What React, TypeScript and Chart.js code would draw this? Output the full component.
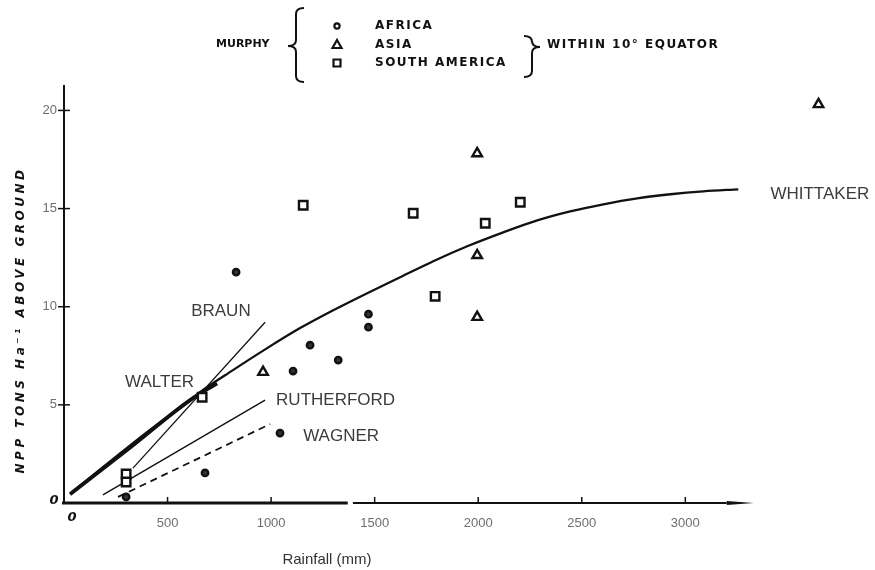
import React, { useEffect, useRef } from 'react';
import { Chart, registerables } from 'chart.js';

Chart.register(...registerables);

// Site data within 10° of the equator: rainfall (mm) vs above-ground NPP (t/ha)
const AFRICA_RAIN = [831, 1470, 1470, 1188, 1324, 1106, 1043, 681, 300];
const AFRICA_NPP = [11.76, 9.62, 8.96, 8.04, 7.28, 6.72, 3.56, 1.53, 0.31];
const ASIA_RAIN = [961, 1995, 1995, 1995, 3643];
const ASIA_NPP = [6.67, 17.81, 12.62, 9.47, 20.31];
const SAMERICA_RAIN = [300, 300, 667, 1155, 1686, 2203, 2034, 1792];
const SAMERICA_NPP = [1.48, 1.07, 5.39, 15.17, 14.76, 15.32, 14.25, 10.53];

// Published rainfall–production relations
const WHITTAKER_RAIN = [39, 401, 609, 657, 816, 981, 1140, 1300, 1464, 1623, 1783, 1947, 2121, 2285, 2444, 2604, 2768, 2928, 3087, 3256];
const WHITTAKER_NPP = [0.56, 3.61, 5.24, 5.65, 6.77, 7.89, 8.91, 9.82, 10.69, 11.5, 12.32, 13.08, 13.79, 14.4, 14.86, 15.22, 15.52, 15.73, 15.88, 15.98];
const WALTER_RAIN = [29, 304, 609, 739];
const WALTER_NPP = [0.45, 2.7, 5.24, 6.1];
const BRAUN_RAIN = [333, 971];
const BRAUN_NPP = [1.78, 9.21];
const RUTHERFORD_RAIN = [188, 971];
const RUTHERFORD_NPP = [0.41, 5.24];
const WAGNER_RAIN = [261, 995];
const WAGNER_NPP = [0.31, 4.02];

const X_TICKS = [0, 500, 1000, 1500, 2000, 2500, 3000];
const Y_TICKS = [0, 5, 10, 15, 20];

// Curve names, anchored in data units (left edge, vertical centre)
const CURVE_NAMES = ['BRAUN', 'WALTER', 'RUTHERFORD', 'WAGNER', 'WHITTAKER'];
const NAME_RAIN = [614, 295, 1024, 1155, 3411];
const NAME_NPP = [9.77, 6.16, 5.24, 3.41, 15.73];

const pts = (xs: number[], ys: number[]) => xs.map((x, i) => ({ x, y: ys[i] }));

const INK = '#111';
const TICK_FONT = { family: '"Liberation Sans Narrow", "Liberation Sans", Arial', size: 13 };

function brace(ctx: CanvasRenderingContext2D, x: number, top: number, mid: number, bot: number, w: number) {
  // w > 0 opens to the right ("{"), w < 0 opens to the left ("}")
  const r = 6;
  ctx.beginPath();
  ctx.moveTo(x + w, top);
  ctx.quadraticCurveTo(x, top, x, top + r);
  ctx.lineTo(x, mid - r);
  ctx.quadraticCurveTo(x, mid, x - w, mid);
  ctx.quadraticCurveTo(x, mid, x, mid + r);
  ctx.lineTo(x, bot - r);
  ctx.quadraticCurveTo(x, bot, x + w, bot);
  ctx.stroke();
}

const decor = {
  id: 'decor',
  beforeDatasetsDraw(chart: any) {
    const { ctx, scales } = chart;
    const px = (v: number) => scales.x.getPixelForValue(v);
    const py = (v: number) => scales.y.getPixelForValue(v);
    const seg = (a: number, b: number, c: number, d: number) => {
      ctx.beginPath();
      ctx.moveTo(a, b);
      ctx.lineTo(c, d);
      ctx.stroke();
    };
    ctx.save();
    ctx.strokeStyle = INK;
    ctx.fillStyle = INK;
    const y0 = py(0);
    const x0 = px(0);
    // horizontal axis, heavier up to the break
    ctx.lineWidth = 3;
    seg(x0 - 2, y0, px(1370), y0);
    ctx.lineWidth = 2;
    seg(px(1395), y0, px(3200), y0);
    ctx.beginPath();
    ctx.moveTo(px(3200), y0 - 2);
    ctx.lineTo(px(3330), y0);
    ctx.lineTo(px(3200), y0 + 2);
    ctx.closePath();
    ctx.fill();
    ctx.lineWidth = 1.5;
    X_TICKS.filter((v) => v > 0).forEach((v) => seg(px(v), y0, px(v), y0 - 6));
    // vertical axis
    ctx.lineWidth = 2;
    seg(x0, y0 + 1, x0, py(21.3));
    ctx.lineWidth = 1.5;
    Y_TICKS.filter((v) => v > 0).forEach((v) => seg(x0 - 6, py(v), x0 + 6, py(v)));
    ctx.restore();
  },
  afterDraw(chart: any) {
    const { ctx, scales } = chart;
    const px = (v: number) => scales.x.getPixelForValue(v);
    const py = (v: number) => scales.y.getPixelForValue(v);
    ctx.save();

    // curve names
    ctx.fillStyle = '#3c3c3c';
    ctx.font = '17px "Liberation Sans", Arial, sans-serif';
    ctx.textAlign = 'left';
    ctx.textBaseline = 'middle';
    CURVE_NAMES.forEach((t, i) => ctx.fillText(t, px(NAME_RAIN[i]), py(NAME_NPP[i])));

    // origin zeros
    ctx.fillStyle = INK;
    ctx.font = 'italic bold 13px "DejaVu Sans", sans-serif';
    ctx.textAlign = 'center';
    ctx.fillText('0', px(0) + 8, py(0) + 15);
    ctx.fillText('0', px(0) - 10, py(0) - 2);

    // axis titles
    ctx.fillStyle = '#333';
    ctx.font = '15px "Liberation Sans", Arial, sans-serif';
    ctx.fillText('Rainfall (mm)', 327, 560);

    ctx.save();
    ctx.fillStyle = INK;
    ctx.translate(21, 320);
    ctx.rotate(-Math.PI / 2);
    ctx.font = 'italic bold 12px "DejaVu Sans", sans-serif';
    (ctx as any).letterSpacing = '3.5px';
    ctx.fillText('NPP TONS Ha\u207B\u00B9 ABOVE GROUND', 0, 0);
    ctx.restore();

    // key
    ctx.fillStyle = INK;
    ctx.strokeStyle = INK;
    ctx.textAlign = 'left';
    ctx.font = 'bold 11px "DejaVu Sans", sans-serif';
    ctx.fillText('MURPHY', 216, 44);
    ctx.font = 'bold 12px "DejaVu Sans", sans-serif';
    (ctx as any).letterSpacing = '1.5px';
    ctx.fillText('AFRICA', 375, 26);
    ctx.fillText('ASIA', 375, 45);
    ctx.fillText('SOUTH AMERICA', 375, 63);
    ctx.fillText('WITHIN 10\u00B0 EQUATOR', 547, 45);
    (ctx as any).letterSpacing = '0px';

    ctx.lineWidth = 2;
    brace(ctx, 296, 8, 46, 82, 8);
    brace(ctx, 532, 36, 47, 77, -8);

    ctx.lineWidth = 2.2;
    ctx.fillStyle = '#fff';
    ctx.beginPath();
    ctx.arc(337, 26, 2.6, 0, Math.PI * 2);
    ctx.fill();
    ctx.stroke();
    ctx.beginPath();
    ctx.moveTo(337, 40);
    ctx.lineTo(341.5, 48);
    ctx.lineTo(332.5, 48);
    ctx.closePath();
    ctx.fill();
    ctx.stroke();
    ctx.beginPath();
    ctx.rect(333.5, 59.5, 7, 7);
    ctx.fill();
    ctx.stroke();

    ctx.restore();
  },
};

export default function App() {
  const ref = useRef<HTMLCanvasElement>(null);

  useEffect(() => {
    if (!ref.current) return;
    const marker = {
      borderColor: INK,
      backgroundColor: '#fff',
      borderWidth: 2.4,
      showLine: false,
      clip: false as const,
    };
    const curve = {
      borderColor: INK,
      pointRadius: 0,
      showLine: true,
      fill: false,
    };
    const chart = new Chart(ref.current, {
      type: 'scatter',
      data: {
        datasets: [
          { ...marker, label: 'AFRICA', data: pts(AFRICA_RAIN, AFRICA_NPP), pointStyle: 'circle', pointRadius: 3.2, backgroundColor: '#333' },
          { ...marker, label: 'ASIA', data: pts(ASIA_RAIN, ASIA_NPP), pointStyle: 'triangle', pointRadius: 5.5 },
          { ...marker, label: 'SOUTH AMERICA', data: pts(SAMERICA_RAIN, SAMERICA_NPP), pointStyle: 'rect', pointRadius: 6 },
          { ...curve, label: 'WHITTAKER', data: pts(WHITTAKER_RAIN, WHITTAKER_NPP), borderWidth: 2.3, cubicInterpolationMode: 'monotone' },
          { ...curve, label: 'WALTER', data: pts(WALTER_RAIN, WALTER_NPP), borderWidth: 3.8, cubicInterpolationMode: 'monotone' },
          { ...curve, label: 'BRAUN', data: pts(BRAUN_RAIN, BRAUN_NPP), borderWidth: 1.3 },
          { ...curve, label: 'RUTHERFORD', data: pts(RUTHERFORD_RAIN, RUTHERFORD_NPP), borderWidth: 1.4 },
          { ...curve, label: 'WAGNER', data: pts(WAGNER_RAIN, WAGNER_NPP), borderWidth: 1.8, borderDash: [7, 5] },
        ] as any,
      },
      options: {
        animation: false,
        responsive: false,
        layout: { padding: { top: 81, right: 24, left: 0, bottom: 0 } },
        plugins: { legend: { display: false }, tooltip: { enabled: false } },
        scales: {
          x: {
            type: 'linear',
            min: 0,
            max: 3800,
            afterBuildTicks: (s: any) => {
              s.ticks = X_TICKS.map((value) => ({ value }));
            },
            afterFit: (s: any) => {
              s.height = 67;
            },
            grid: { display: false, drawTicks: false },
            border: { display: false },
            ticks: {
              padding: 13,
              color: '#6e6e6e',
              autoSkip: false,
              maxRotation: 0,
              font: TICK_FONT,
              callback: (v: any) => (v === 0 ? '' : String(v)),
            },
          },
          y: {
            type: 'linear',
            min: 0,
            max: 21.5,
            afterBuildTicks: (s: any) => {
              s.ticks = Y_TICKS.map((value) => ({ value }));
            },
            afterFit: (s: any) => {
              s.width = 64;
            },
            grid: { display: false, drawTicks: false },
            border: { display: false },
            ticks: {
              padding: 7,
              color: '#6e6e6e',
              font: TICK_FONT,
              callback: (v: any) => (v === 0 ? '' : String(v)),
            },
          },
        },
      } as any,
      plugins: [decor],
    });
    return () => chart.destroy();
  }, []);

  return (
    <div style={{ position: 'fixed', left: 0, top: 0, width: 875, height: 570, background: '#fff' }}>
      <canvas ref={ref} width={875} height={570} />
    </div>
  );
}
